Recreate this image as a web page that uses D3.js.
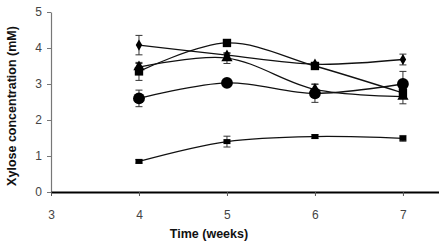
<!DOCTYPE html>
<html>
<head>
<meta charset="utf-8">
<script src="https://cdn.jsdelivr.net/npm/d3@7"></script>
<style>
  body { margin: 0; background: #fff; }
  text { font-family: "Liberation Sans", Arial, sans-serif; }
</style>
</head>
<body>
<div id="chart"></div>
<script>
// Time points (weeks)
const weeks = [4, 5, 6, 7];
const xTicks = [3, 4, 5, 6, 7];
const yTicks = [0, 1, 2, 3, 4, 5];

// Series values (mM) and their error bars
const diamondVals = [4.08, 3.8, 3.55, 3.68];
const diamondErr = [0.27, 0.05, 0.05, 0.15];
const squareVals = [3.35, 4.14, 3.5, 2.75];
const squareErr = [0.25, 0.05, 0.08, 0.1];
const triangleVals = [3.47, 3.72, 2.85, 2.65];
const triangleErr = [0.1, 0.15, 0.15, 0.2];
const circleVals = [2.6, 3.03, 2.74, 3.0];
const circleErr = [0.23, 0.05, 0.25, 0.35];
const smallSquareVals = [0.85, 1.4, 1.54, 1.49];
const smallSquareErr = [0.05, 0.15, 0.05, 0.08];

const series = [
  { name: "diamond", values: diamondVals, err: diamondErr },
  { name: "square", values: squareVals, err: squareErr },
  { name: "triangle", values: triangleVals, err: triangleErr },
  { name: "circle", values: circleVals, err: circleErr },
  { name: "smallSquare", values: smallSquareVals, err: smallSquareErr }
];

const width = 439, height = 243;
const plotLeft = 51, plotTop = 12, plotRight = 439, plotBottom = 192;

const svg = d3.select("#chart").append("svg")
  .attr("width", width)
  .attr("height", height);

const x = d3.scaleLinear().domain([3, 7.41]).range([plotLeft, plotRight]);
const y = d3.scaleLinear().domain([0, 5]).range([plotBottom, plotTop]);

// Y axis
const yAxis = svg.append("g")
  .attr("transform", `translate(${plotLeft},0)`)
  .call(d3.axisLeft(y).tickValues(yTicks).tickSize(4).tickSizeOuter(0).tickPadding(5).tickFormat(d3.format("d")));
yAxis.select(".domain").attr("stroke", "#777").attr("stroke-width", 1.2);
yAxis.selectAll(".tick line").attr("stroke", "#777");
yAxis.selectAll(".tick text").attr("font-size", "12px").attr("fill", "#444")
  .attr("font-family", "'Liberation Sans', Arial, sans-serif");

// X axis
const xAxis = svg.append("g")
  .attr("transform", `translate(0,${plotBottom})`)
  .call(d3.axisBottom(x).tickValues(xTicks).tickSize(4).tickSizeOuter(0).tickPadding(14).tickFormat(d3.format("d")));
xAxis.select(".domain").attr("stroke", "#000").attr("stroke-width", 2.2);
xAxis.selectAll(".tick line").attr("stroke", "#555");
xAxis.selectAll(".tick text").attr("font-size", "12px").attr("fill", "#444")
  .attr("font-family", "'Liberation Sans', Arial, sans-serif");

// Axis titles
svg.append("text")
  .attr("x", 209)
  .attr("y", 238)
  .attr("text-anchor", "middle")
  .attr("font-size", "12.5px")
  .attr("font-weight", "bold")
  .attr("fill", "#111")
  .text("Time (weeks)");

svg.append("text")
  .attr("transform", `translate(16,${(plotTop + plotBottom) / 2 + 4}) rotate(-90)`)
  .attr("text-anchor", "middle")
  .attr("font-size", "12.5px")
  .attr("font-weight", "bold")
  .attr("fill", "#111")
  .text("Xylose concentration  (mM)");

// Smoothed lines
const line = d3.line()
  .x((d, i) => x(weeks[i]))
  .y(d => y(d))
  .curve(d3.curveCatmullRom.alpha(0.5));

svg.selectAll("path.series")
  .data(series)
  .enter()
  .append("path")
  .attr("class", "series")
  .attr("d", d => line(d.values))
  .attr("fill", "none")
  .attr("stroke", "#111")
  .attr("stroke-width", 1.3);

// Error bars
series.forEach(s => {
  const g = svg.append("g").attr("stroke", "#333").attr("stroke-width", 1);
  s.values.forEach((v, i) => {
    const cx = x(weeks[i]);
    const y0 = y(v - s.err[i]), y1 = y(v + s.err[i]);
    g.append("line").attr("x1", cx).attr("x2", cx).attr("y1", y0).attr("y2", y1);
    g.append("line").attr("x1", cx - 3.5).attr("x2", cx + 3.5).attr("y1", y0).attr("y2", y0);
    g.append("line").attr("x1", cx - 3.5).attr("x2", cx + 3.5).attr("y1", y1).attr("y2", y1);
  });
});

// Markers
const symbolFor = {
  diamond: d3.symbol().type(d3.symbolDiamond).size(36),
  square: d3.symbol().type(d3.symbolSquare).size(70),
  triangle: d3.symbol().type(d3.symbolTriangle).size(55),
  circle: d3.symbol().type(d3.symbolCircle).size(110)
};

series.forEach(s => {
  s.values.forEach((v, i) => {
    const cx = x(weeks[i]), cy = y(v);
    if (s.name === "smallSquare") {
      svg.append("rect")
        .attr("x", cx - 3.5).attr("y", cy - 2.5)
        .attr("width", 7).attr("height", 5)
        .attr("fill", "#000");
    } else {
      svg.append("path")
        .attr("d", symbolFor[s.name]())
        .attr("transform", `translate(${cx},${cy})`)
        .attr("fill", "#000");
    }
  });
});
</script>
</body>
</html>
